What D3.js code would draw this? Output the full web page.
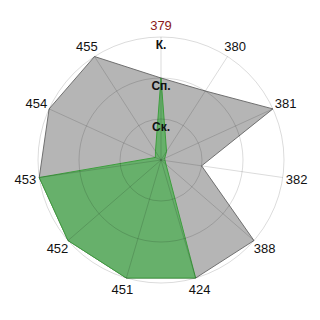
<!DOCTYPE html>
<html>
<head>
<meta charset="utf-8">
<script src="https://cdn.jsdelivr.net/npm/d3@7"></script>
<style>
  body { margin: 0; background: #fff; }
  svg { display: block; }
</style>
</head>
<body>
<div id="chart"></div>
<script>
var categories = ["379", "380", "381", "382", "388", "424", "451", "452", "453", "454", "455"];
var levels = ["Ск.", "Сп.", "К."];
var levelValues = [1, 2, 3];
var grayValues = [2, 2, 3, 1, 3, 3, 3, 3, 3, 3, 3];
var greenValues = [2, 0.25, 0.1, 0.1, 0.16, 3, 3, 3, 3, 0.15, 0.25];

var width = 320, height = 320,
    cx = 161, cy = 160, radius = 123;

var svg = d3.select("#chart").append("svg")
    .attr("width", width)
    .attr("height", height)
  .append("g")
    .attr("transform", "translate(" + cx + "," + cy + ")");

var r = d3.scaleLinear()
    .domain([0, 3])
    .range([0, radius]);

var angle = d3.scaleLinear()
    .domain([0, categories.length])
    .range([0, 2 * Math.PI]);

var line = d3.lineRadial()
    .angle(function(d, i) { return angle(i); })
    .radius(function(d) { return r(d); })
    .curve(d3.curveLinearClosed);

// series
svg.append("path")
    .datum(grayValues)
    .attr("d", line)
    .attr("fill", "#b5b5b5")
    .attr("stroke", "#707070")
    .attr("stroke-width", 1);

svg.append("path")
    .datum(greenValues)
    .attr("d", line)
    .attr("fill", "#67b06b")
    .attr("stroke", "#3e9e3e")
    .attr("stroke-width", 1);

// grid on top
var grid = svg.append("g")
    .attr("fill", "none")
    .attr("stroke", "#000")
    .attr("stroke-opacity", 0.14);

grid.selectAll("circle")
    .data(levelValues)
  .enter().append("circle")
    .attr("r", function(d) { return r(d); });

grid.selectAll("line")
    .data(categories)
  .enter().append("line")
    .attr("x2", function(d, i) { return r(3) * Math.sin(angle(i)); })
    .attr("y2", function(d, i) { return -r(3) * Math.cos(angle(i)); });

// level labels
svg.selectAll(".level")
    .data(levels)
  .enter().append("text")
    .attr("class", "level")
    .attr("x", 0)
    .attr("y", function(d, i) { return -r(levelValues[i]) + 12; })
    .attr("text-anchor", "middle")
    .style("font-family", "Liberation Sans, Arial, sans-serif")
    .style("font-size", "12px")
    .style("font-weight", "bold")
    .attr("fill", "#111")
    .text(function(d) { return d; });

// category labels
svg.selectAll(".cat")
    .data(categories)
  .enter().append("text")
    .attr("class", "cat")
    .attr("x", function(d, i) { return 137 * Math.sin(angle(i)); })
    .attr("y", function(d, i) { return -135 * Math.cos(angle(i)); })
    .attr("dy", "0.35em")
    .attr("text-anchor", "middle")
    .style("font-family", "Liberation Sans, Arial, sans-serif")
    .style("font-size", "13px")
    .attr("fill", function(d, i) { return i === 0 ? "#8b1a1a" : "#111"; })
    .text(function(d) { return d; });
</script>
</body>
</html>
